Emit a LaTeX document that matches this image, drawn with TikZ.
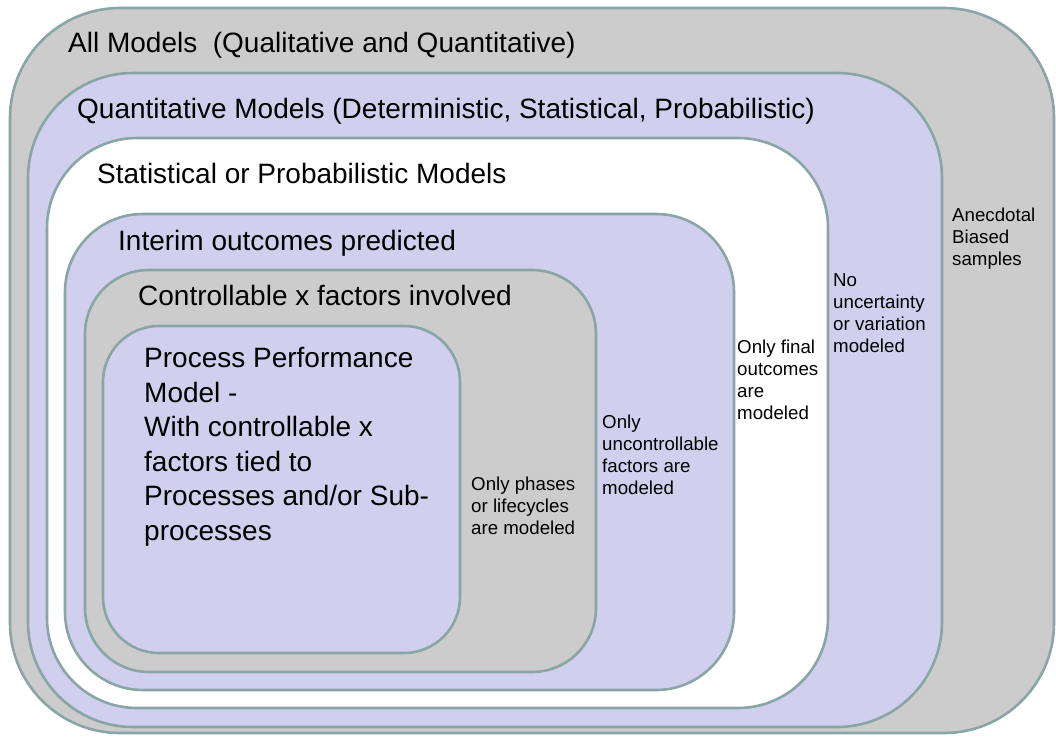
\documentclass[tikz,border=0pt]{standalone}
\usepackage{fontspec}
\setmainfont{Liberation Sans}

\definecolor{rimgray}{RGB}{138,165,165}
\definecolor{boxgray}{RGB}{204,204,204}
\definecolor{boxlav}{RGB}{208,208,238}

\begin{document}
\begin{tikzpicture}[x=1pt, y=-1pt,
                    every node/.style={anchor=base west, inner sep=0pt, align=left},
                    layer/.style={draw=rimgray, line width=2.6pt},
                    bigtext/.style={font=\fontsize{28}{34.5}\selectfont},
                    smalltext/.style={font=\fontsize{18.7}{22}\selectfont}]

                    \useasboundingbox (0,0) rectangle (1056,736);

                    % Nested model boxes, outermost first
                    \draw[layer, fill=boxgray, rounded corners=110pt] (10,8) rectangle (1054,733);  % All models
                    \draw[layer, fill=boxlav, rounded corners=105pt] (28,73) rectangle (942,727);   % Quantitative
                    \draw[layer, fill=white, rounded corners=90pt] (47,138) rectangle (828,708);    % Statistical
                    \draw[layer, fill=boxlav, rounded corners=78pt] (65,214) rectangle (734,690);   % Interim
                    \draw[layer, fill=boxgray, rounded corners=64pt] (85,270) rectangle (596,672);  % Controllable
                    \draw[layer, fill=boxlav, rounded corners=56pt] (103,326) rectangle (460,653);  % PPM

                    % Box titles (multi-line nodes sit on their last baseline)
                    \node[bigtext] (allmodels) at (68,52) {All Models\ \ (Qualitative and Quantitative)};
                    \node[bigtext] (quantmodels) at (77,118) {Quantitative Models (Deterministic, Statistical, Probabilistic)};
                    \node[bigtext] (statmodels) at (97,183) {Statistical or Probabilistic Models};
                    \node[bigtext] (interim) at (118,250) {Interim outcomes predicted};
                    \node[bigtext] (controllable) at (138,305) {Controllable x factors involved};
                    \node[bigtext] (ppm) at (144,540) {Process Performance\\Model -\\With controllable x\\factors tied to\\Processes and/or Sub-\\processes};

                    % Side notes in each ring
                    \node[smalltext] (phases) at (471,534) {Only phases\\or lifecycles\\are modeled};
                    \node[smalltext] (uncontrol) at (602,494) {Only\\uncontrollable\\factors are\\modeled};
                    \node[smalltext] (finalout) at (737,419) {Only final\\outcomes\\are\\modeled};
                    \node[smalltext] (nouncert) at (833,352) {No\\uncertainty\\or variation\\modeled};
                    \node[smalltext] (anecdotal) at (952,265) {Anecdotal\\Biased\\samples};
\end{tikzpicture}
\end{document}
